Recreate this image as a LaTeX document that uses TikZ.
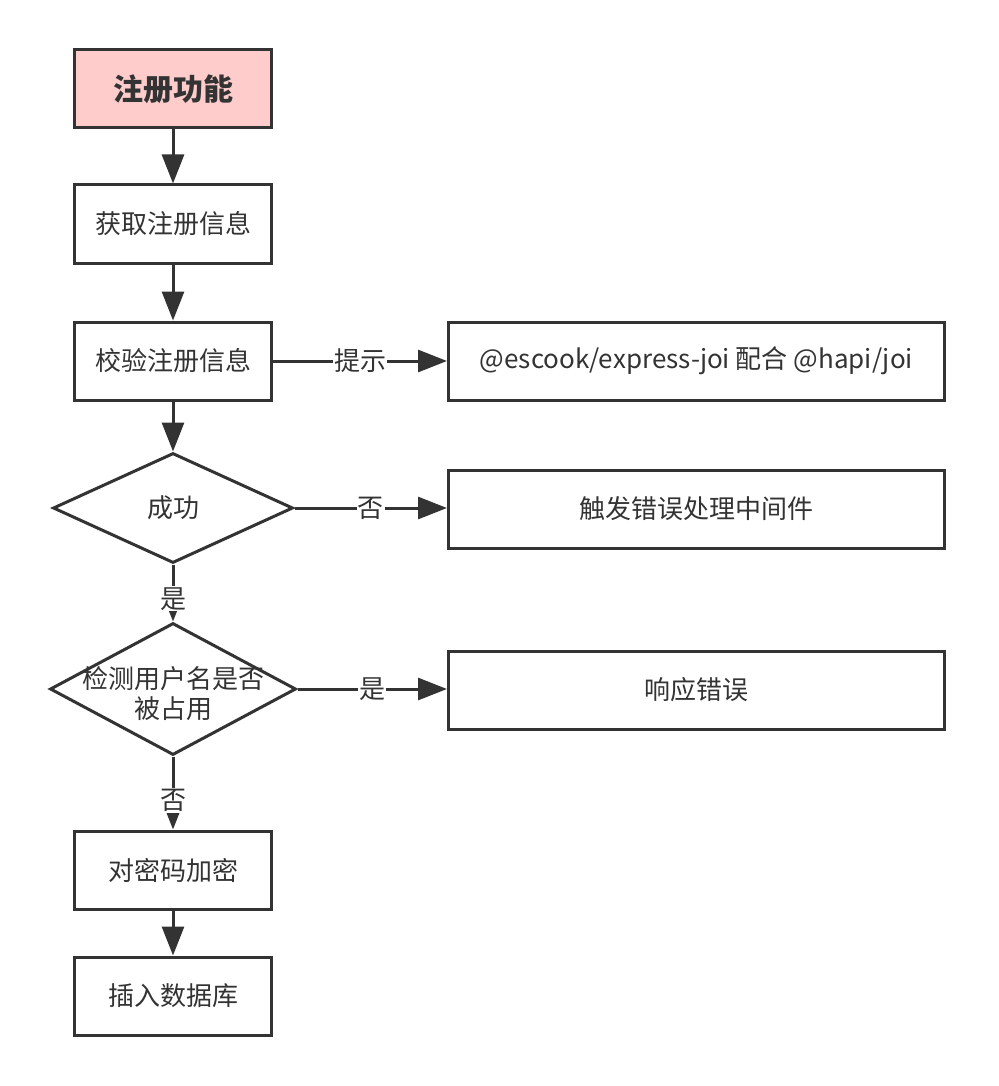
\documentclass[tikz,border=0pt]{standalone}
\usepackage{fontspec}
\setmainfont{Noto Sans CJK SC}
\usetikzlibrary{arrows.meta,shapes.geometric}
\definecolor{ink}{HTML}{333333}
\definecolor{pinkfill}{HTML}{FFCCCC}
\begin{document}
\begin{tikzpicture}[x=1pt,y=-1pt,
  every node/.style={text=ink,font=\fontsize{26}{31}\selectfont},
  stepbox/.style={draw=ink,line width=3pt,fill=white,minimum width=197pt,minimum height=78pt,inner sep=0pt},
  widebox/.style={stepbox,minimum width=496pt},
  decision/.style={draw=ink,line width=3pt,fill=white,diamond,inner sep=0pt},
  flow/.style={draw=ink,line width=3pt,-{Triangle[length=29pt,width=22pt]}},
  tag/.style={fill=white,inner sep=1pt}]
\useasboundingbox (0,0) rectangle (998,1086);

% main column
\node[stepbox,fill=pinkfill,font=\fontsize{30}{34}\selectfont\bfseries] (start) at (173,89) {注册功能};
\node[stepbox] (get) at (173,224) {获取注册信息};
\node[stepbox] (check) at (173,361) {校验注册信息};
\node[decision,minimum width=240pt,minimum height=110pt,
  label={[align=center]center:成功}] (ok) at (173,508) {};
\node[decision,minimum width=246pt,minimum height=132pt,
  label={[align=center,font=\fontsize{26}{30}\selectfont,yshift=-5pt]center:检测用户名是否\\被占用}] (taken) at (173,689) {};
\node[stepbox] (hash) at (173,870) {对密码加密};
\node[stepbox] (insert) at (173,996) {插入数据库};

% side column
\node[widebox] (joi) at (696.5,361) {@escook/express-joi 配合 @hapi/joi};
\node[widebox] (errmw) at (696.5,509) {触发错误处理中间件};
\node[widebox] (resp) at (696.5,690) {响应错误};

% connectors
\draw[flow] (start) -- (get);
\draw[flow] (get) -- (check);
\draw[flow] (check) -- (ok);
\draw[flow] (ok.south) -- node[tag,pos=0.6] {是} (taken.north);
\draw[flow] (taken.south) -- node[tag,pos=0.6] {否} (hash);
\draw[flow] (hash) -- (insert);
\draw[flow] (check) -- node[tag] {提示} (joi);
\draw[flow] (ok.east) -- node[tag] {否} (errmw.west |- ok.east);
\draw[flow] (taken.east) -- node[tag] {是} (resp.west |- taken.east);
\end{tikzpicture}
\end{document}
